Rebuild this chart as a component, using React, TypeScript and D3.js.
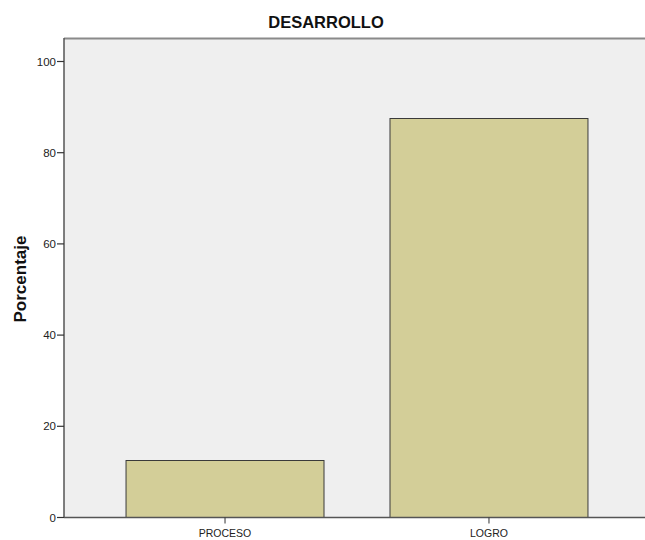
import React, { useEffect } from "react";
import * as d3 from "d3";

const categories = ["PROCESO", "LOGRO"];
const values = [12.5, 87.5];
const yTicks = [0, 20, 40, 60, 80, 100];
const title = "DESARROLLO";
const yLabel = "Porcentaje";

export default function App() {
  useEffect(() => {
    document.body.style.margin = "0";
    document.documentElement.style.overflow = "hidden";
    document.body.style.overflow = "hidden";
  }, []);
  const W = 645, H = 540;
  const left = 64, top = 38, bottom = 517.5;
  const x = d3.scaleBand<string>().domain(categories).range([left, 650]).paddingInner(0.25).paddingOuter(0.235);
  const y = d3.scaleLinear().domain([0, 100]).range([bottom, 61.5]);
  const font = "Liberation Sans, Arial, sans-serif";
  return (
    <svg width={W} height={H} style={{ display: "block", position: "absolute", left: 0, top: 0 }}>
      <rect x={0} y={0} width={W} height={H} fill="#ffffff" />
      <rect x={left} y={top} width={W - left} height={bottom - top} fill="#efefef" />
      <line x1={left} x2={W} y1={top + 0.5} y2={top + 0.5} stroke="#8a8a8a" strokeWidth={2} />
      {categories.map((c, i) => (
        <rect key={c} x={x(c)!} y={y(values[i])} width={x.bandwidth()} height={bottom - y(values[i])}
          fill="#d3ce98" stroke="#3a3a3a" strokeWidth={1} />
      ))}
      <line x1={left} x2={left} y1={top} y2={bottom} stroke="#555" strokeWidth={1.5} />
      <line x1={left} x2={W} y1={bottom} y2={bottom} stroke="#555" strokeWidth={1.5} />
      {yTicks.map(t => (
        <g key={t}>
          <line x1={left - 7} x2={left} y1={y(t)} y2={y(t)} stroke="#333" strokeWidth={1.2} />
          <text x={left - 8} y={y(t)} dy="0.35em" textAnchor="end" fontFamily={font} fontSize={11.5} fill="#222">{t}</text>
        </g>
      ))}
      {categories.map(c => {
        const cx = x(c)! + x.bandwidth() / 2;
        return (
          <g key={c}>
            <line x1={cx} x2={cx} y1={bottom} y2={bottom + 6} stroke="#333" strokeWidth={1} />
            <text x={cx} y={537} textAnchor="middle" fontFamily={font} fontSize={10.5} fill="#222">{c}</text>
          </g>
        );
      })}
      <text x={326} y={28} textAnchor="middle" fontFamily={font} fontSize={16.5} fontWeight="bold" fill="#111">{title}</text>
      <text transform={`translate(26,279) rotate(-90)`} textAnchor="middle" fontFamily={font} fontSize={17} fontWeight="bold" fill="#111">{yLabel}</text>
    </svg>
  );
}
